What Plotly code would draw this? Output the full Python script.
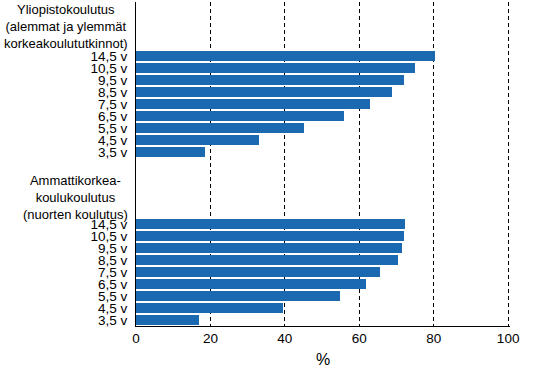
import plotly.graph_objects as go

ages = ["3,5 v", "4,5 v", "5,5 v", "6,5 v", "7,5 v", "8,5 v", "9,5 v", "10,5 v", "14,5 v"]
yliopisto = [18.5, 33.0, 45.2, 55.9, 62.9, 68.8, 72.0, 75.0, 80.4]
amk = [16.9, 39.5, 54.8, 61.8, 65.6, 70.4, 71.5, 72.0, 72.3]
heading_yo = "Yliopistokoulutus<br>(alemmat ja ylemmät<br>korkeakoulututkinnot)"
heading_amk = "Ammattikorkea-<br>koulukoulutus<br>(nuorten koulutus)"
x_ticks = [0, 20, 40, 60, 80, 100]
x_title = "%"

# layout of rows: bottom group starts at 0, top group after a gap
n = len(ages)
gap = 5
amk_pos = list(range(n))
yo_pos = [n + gap + i for i in range(n)]

color = "#1A69B1"
font = dict(family="Liberation Sans, Arial, sans-serif", size=13.5, color="black")
hfont = dict(family="Liberation Sans, Arial, sans-serif", size=13, color="black")

fig = go.Figure()
fig.add_trace(go.Bar(x=amk, y=amk_pos, orientation="h", marker_color=color,
                     marker_line_width=0, width=0.83, showlegend=False))
fig.add_trace(go.Bar(x=yliopisto, y=yo_pos, orientation="h", marker_color=color,
                     marker_line_width=0, width=0.83, showlegend=False))

fig.update_layout(
    width=560, height=368,
    margin=dict(l=136, r=50, t=2, b=42),
    plot_bgcolor="white", paper_bgcolor="white",
    font=font,
    bargap=0,
)
fig.update_xaxes(
    range=[0, 100.5], tickvals=x_ticks, ticktext=[str(v) for v in x_ticks],
    showgrid=True, gridcolor="black", griddash="4px,3px", gridwidth=1,
    showline=True, linecolor="black", linewidth=1, zeroline=False,
    ticks="", title=dict(text=x_title, standoff=8), tickfont=font,
    automargin=False,
)
fig.update_yaxes(
    range=[-0.5, n + gap + n + 3.5],
    tickvals=amk_pos + yo_pos, ticktext=ages + ages,
    showgrid=False, showline=True, linecolor="black", linewidth=1,
    zeroline=False, ticks="", ticklabelstandoff=5, tickfont=font,
    automargin=False,
)
fig.add_annotation(text=heading_yo, xref="paper", x=0, xshift=-6, xanchor="right",
                   yref="y", y=2 * n + gap + 1.5, yanchor="middle", align="center",
                   showarrow=False, font=hfont)
fig.add_annotation(text=heading_amk, xref="paper", x=0, xshift=-6, xanchor="right",
                   yref="y", y=n + 1.25, yanchor="middle", align="center",
                   showarrow=False, font=hfont)

fig.write_html("out.html", post_script="document.body.style.margin='0';",
               config={"displayModeBar": False})
